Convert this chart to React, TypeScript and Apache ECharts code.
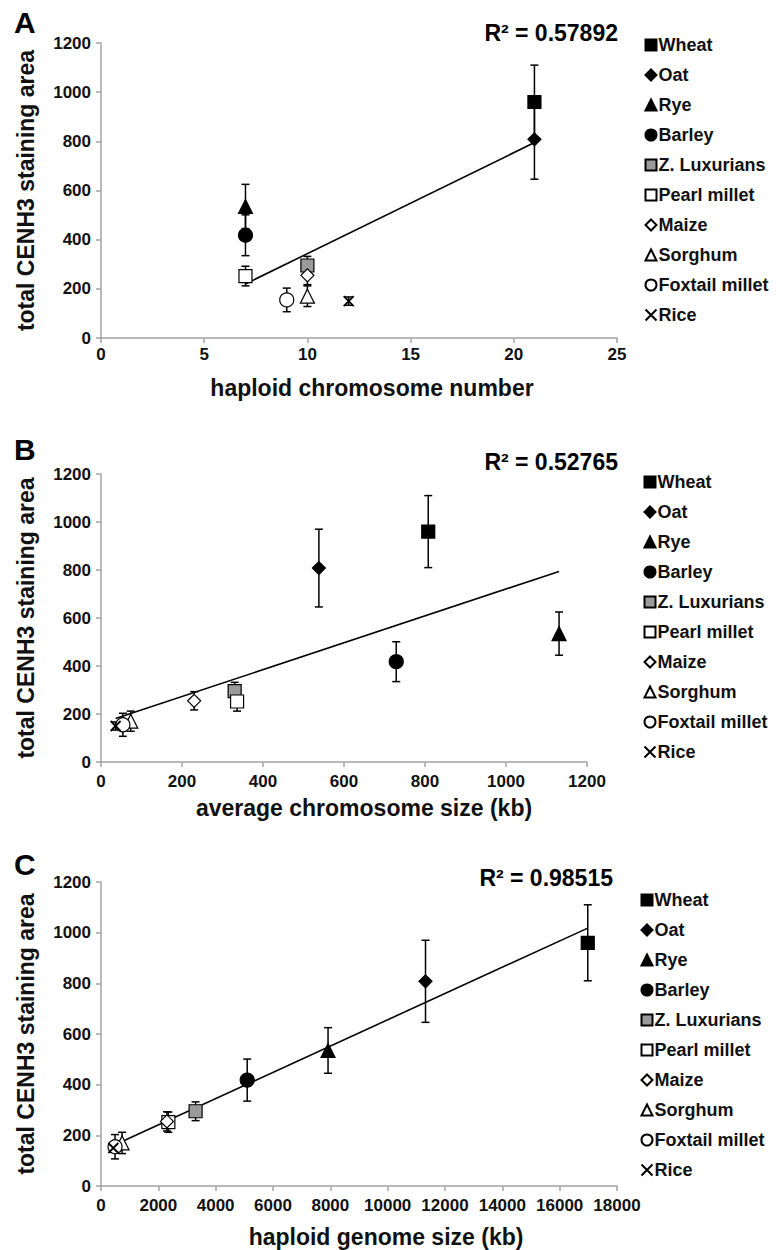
import React, { useEffect, useRef } from "react";
import * as echarts from "echarts";

// ---------- data ----------
const species = [
  "Wheat",
  "Oat",
  "Rye",
  "Barley",
  "Z. Luxurians",
  "Pearl millet",
  "Maize",
  "Sorghum",
  "Foxtail millet",
  "Rice",
];
const stainingArea = [960, 808, 535, 418, 295, 252, 255, 170, 155, 150];
const stainingError = [150, 162, 90, 83, 37, 40, 38, 42, 48, 17];

const chromosomeNumber = [21, 21, 7, 7, 10, 7, 10, 10, 9, 12];
const avgChromosomeSize = [808, 538, 1131, 729, 330, 336, 230, 73.5, 54, 36];
const genomeSize = [16980, 11320, 7920, 5100, 3300, 2350, 2300, 735, 490, 430];

const trendA = [
  [7, 220],
  [21, 795],
];
const trendB = [
  [36, 181],
  [1131, 794],
];
const trendC = [
  [430, 160],
  [16980, 1018],
];

const rSquared = ["0.57892", "0.52765", "0.98515"];
const panelLetters = ["A", "B", "C"];
const xTitles = [
  "haploid chromosome number",
  "average chromosome size (kb)",
  "haploid genome size (kb)",
];
const yTitle = "total CENH3 staining area";
const xMax = [25, 1200, 18000];
const xInterval = [5, 200, 2000];
const yMax = 1200;
const yInterval = 200;

// ---------- styles ----------
const FONT = "'Liberation Sans', Arial, Helvetica, sans-serif";
const AXIS_GRAY = "#a3a3a3";
const TXT = "#111";

const grids = [
  { left: 101, top: 43, width: 516, height: 295 },
  { left: 101, top: 474, width: 486, height: 288 },
  { left: 101, top: 882, width: 516, height: 304 },
];
const xNameGap = [38, 34, 39];
const xNameShift = [13, 20, 27];
const xLabelMargin = [8, 11, 11];
const legendPos = [
  { left: 643, top: 36 },
  { left: 642, top: 473 },
  { left: 639, top: 891 },
];
const rPos = [
  { x: 618, y: 33 },
  { x: 618, y: 462 },
  { x: 613, y: 878 },
];
const letterPos = [22, 449, 864];

const crossPath = "path://M0,0L10,10M10,0L0,10";

const symbolStyles = [
  { symbol: "rect", size: 13, fill: "#000", border: "#000" },
  { symbol: "diamond", size: 13, fill: "#000", border: "#000" },
  { symbol: "triangle", size: 14, fill: "#000", border: "#000" },
  { symbol: "circle", size: 14, fill: "#000", border: "#000" },
  { symbol: "rect", size: 13, fill: "#9a9a9a", border: "#000" },
  { symbol: "rect", size: 13, fill: "#fff", border: "#000" },
  { symbol: "diamond", size: 13, fill: "#fff", border: "#000" },
  { symbol: "triangle", size: 14, fill: "#fff", border: "#000" },
  { symbol: "circle", size: 14, fill: "#fff", border: "#000" },
  { symbol: crossPath, size: 10, fill: "none", border: "#000" },
];

function buildOption() {
  const xData = [chromosomeNumber, avgChromosomeSize, genomeSize];
  const trends = [trendA, trendB, trendC];
  const series: any[] = [];

  for (let g = 0; g < 3; g++) {
    // trend line
    series.push({
      type: "line",
      xAxisIndex: g,
      yAxisIndex: g,
      data: trends[g],
      symbol: "none",
      lineStyle: { color: "#000", width: 1.6 },
      z: 2,
      silent: true,
    });
    // error bars
    series.push({
      type: "custom",
      xAxisIndex: g,
      yAxisIndex: g,
      data: xData[g].map((x, i) => [
        x,
        stainingArea[i] - stainingError[i],
        stainingArea[i] + stainingError[i],
      ]),
      encode: { x: 0, y: [1, 2] },
      z: 3,
      silent: true,
      renderItem: (params: any, api: any) => {
        const lo = api.coord([api.value(0), api.value(1)]);
        const hi = api.coord([api.value(0), api.value(2)]);
        const w = 4;
        const style = { stroke: "#000", lineWidth: 1.5, fill: null };
        return {
          type: "group",
          children: [
            { type: "line", shape: { x1: lo[0], y1: lo[1], x2: hi[0], y2: hi[1] }, style },
            { type: "line", shape: { x1: lo[0] - w, y1: lo[1], x2: lo[0] + w, y2: lo[1] }, style },
            { type: "line", shape: { x1: hi[0] - w, y1: hi[1], x2: hi[0] + w, y2: hi[1] }, style },
          ],
        };
      },
    });
    // scatter markers
    species.forEach((name, i) => {
      const s = symbolStyles[i];
      series.push({
        type: "scatter",
        name,
        xAxisIndex: g,
        yAxisIndex: g,
        data: [[xData[g][i], stainingArea[i]]],
        symbol: s.symbol,
        symbolSize: s.size,
        itemStyle: {
          color: s.fill,
          borderColor: s.border,
          borderWidth: i === 9 ? 1.8 : 1.2,
          opacity: 1,
        },
        z: 5,
      });
    });
  }

  const axisCommon = {
    splitLine: { show: false },
    axisLine: { show: true, onZero: false, lineStyle: { color: AXIS_GRAY, width: 1.5 } },
    axisTick: { show: true, inside: false, length: 5, lineStyle: { color: AXIS_GRAY, width: 1.5 } },
  };
  const labelCommon = {
    fontSize: 17,
    fontWeight: "bold",
    color: TXT,
    fontFamily: FONT,
    formatter: (v: number) => String(v),
  };

  return {
    animation: false,
    backgroundColor: "#fff",
    grid: grids.map((gr) => ({ ...gr, containLabel: false })),
    xAxis: grids.map((_, g) => ({
      type: "value",
      gridIndex: g,
      min: 0,
      max: xMax[g],
      interval: xInterval[g],
      ...axisCommon,
      axisLabel: { ...labelCommon, margin: xLabelMargin[g] },
      name: xTitles[g],
      nameLocation: "middle",
      nameGap: xNameGap[g],
      nameTextStyle: {
        fontSize: 23,
        fontWeight: "bold",
        color: TXT,
        fontFamily: FONT,
        padding: [0, 0, 0, 2 * xNameShift[g]],
      },
    })),
    yAxis: grids.map((_, g) => ({
      type: "value",
      gridIndex: g,
      min: 0,
      max: yMax,
      interval: yInterval,
      ...axisCommon,
      axisLabel: { ...labelCommon, margin: 10 },
      name: yTitle,
      nameLocation: "middle",
      nameRotate: 90,
      nameGap: 64,
      nameTextStyle: {
        fontSize: 23,
        fontWeight: "bold",
        color: TXT,
        fontFamily: FONT,
      },
    })),
    legend: legendPos.map((p) => ({
      data: species,
      orient: "vertical",
      left: p.left,
      top: p.top,
      padding: 0,
      itemGap: 12,
      itemWidth: 11,
      itemHeight: 11,
      selectedMode: false,
      textStyle: {
        fontSize: 18,
        lineHeight: 18,
        fontWeight: "bold",
        color: TXT,
        fontFamily: FONT,
        padding: [0, 0, 0, -3],
      },
    })),
    graphic: [
      ...panelLetters.map((l, i) => ({
        type: "text",
        x: 14,
        y: letterPos[i],
        style: {
          text: l,
          fontSize: 30,
          fontWeight: "bold",
          fontFamily: FONT,
          fill: "#000",
          align: "left",
          verticalAlign: "middle",
        },
      })),
      ...rSquared.map((r, i) => ({
        type: "text",
        x: rPos[i].x,
        y: rPos[i].y,
        style: {
          text: `R² = ${r}`,
          fontSize: 23,
          fontWeight: "bold",
          fontFamily: FONT,
          fill: "#000",
          align: "right",
          verticalAlign: "middle",
        },
      })),
    ],
    series,
  };
}

export default function App() {
  const ref = useRef<HTMLDivElement>(null);
  useEffect(() => {
    if (!ref.current) return;
    const chart = echarts.init(ref.current, undefined, { renderer: "svg" });
    chart.setOption(buildOption() as any);
    return () => chart.dispose();
  }, []);
  return (
    <div
      ref={ref}
      style={{
        position: "absolute",
        left: 0,
        top: 0,
        width: 782,
        height: 1250,
        background: "#fff",
      }}
    />
  );
}
